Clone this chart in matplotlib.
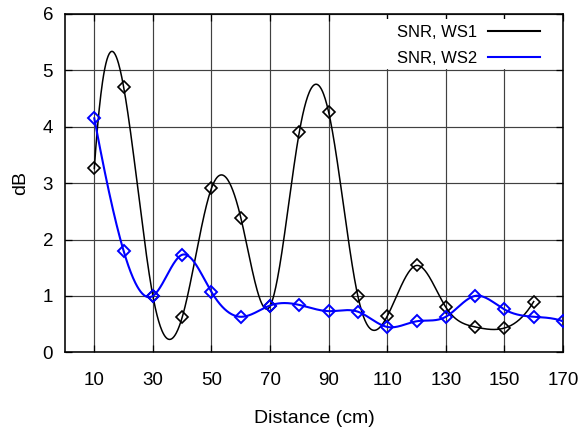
import numpy as np
import matplotlib
matplotlib.use("Agg")
import matplotlib.pyplot as plt
from matplotlib.lines import Line2D
from matplotlib.patches import Rectangle

plt.rcParams['font.family'] = ['Liberation Sans', 'DejaVu Sans']

# data
dist_ws1 = [10, 20, 30, 40, 50, 60, 70, 80, 90, 100, 110, 120, 130, 140, 150, 160]
snr_ws1 = [3.26, 4.71, 1.00, 0.62, 2.91, 2.39, 0.82, 3.91, 4.26, 0.99, 0.64, 1.54, 0.80, 0.45, 0.43, 0.90]
dist_ws2 = [10, 20, 30, 40, 50, 60, 70, 80, 90, 100, 110, 120, 130, 140, 150, 160, 170]
snr_ws2 = [4.15, 1.80, 1.00, 1.73, 1.07, 0.63, 0.83, 0.84, 0.73, 0.72, 0.45, 0.55, 0.63, 1.00, 0.76, 0.63, 0.55]
xticks = [10, 30, 50, 70, 90, 110, 130, 150, 170]
yticks = [0, 1, 2, 3, 4, 5, 6]
labels = ["SNR, WS1", "SNR, WS2"]


def spline_curve(x, y, n=800):
    """Cubic spline with not-a-knot end conditions."""
    x = np.asarray(x, float)
    y = np.asarray(y, float)
    N = len(x)
    h = np.diff(x)
    A = np.zeros((N, N))
    b = np.zeros(N)
    A[0, 0] = h[1]
    A[0, 1] = -(h[0] + h[1])
    A[0, 2] = h[0]
    A[-1, -3] = h[-1]
    A[-1, -2] = -(h[-2] + h[-1])
    A[-1, -1] = h[-2]
    for i in range(1, N - 1):
        A[i, i - 1] = h[i - 1]
        A[i, i] = 2 * (h[i - 1] + h[i])
        A[i, i + 1] = h[i]
        b[i] = 6 * ((y[i + 1] - y[i]) / h[i] - (y[i] - y[i - 1]) / h[i - 1])
    M = np.linalg.solve(A, b)
    xs = np.linspace(x[0], x[-1], n)
    idx = np.clip(np.searchsorted(x, xs) - 1, 0, N - 2)
    x0, x1 = x[idx], x[idx + 1]
    y0, y1 = y[idx], y[idx + 1]
    m0, m1 = M[idx], M[idx + 1]
    hh = x1 - x0
    t1 = x1 - xs
    t0 = xs - x0
    ys = (m0 * t1 ** 3 + m1 * t0 ** 3) / (6 * hh) \
        + (y0 / hh - m0 * hh / 6) * t1 + (y1 / hh - m1 * hh / 6) * t0
    return xs, ys


fig = plt.figure(figsize=(5.8, 4.28), dpi=100)
ax = fig.add_axes([65 / 580, (428 - 352.3) / 428, (563 - 65) / 580, (352.3 - 14) / 428])

xs1, ys1 = spline_curve(dist_ws1, snr_ws1)
xs2, ys2 = spline_curve(dist_ws2, snr_ws2)

ax.plot(xs1, ys1, color='black', lw=1.1, zorder=3)
ax.plot(dist_ws1, snr_ws1, linestyle='none', marker='D', ms=6, mfc='none',
        mec='black', mew=1.2, zorder=4)
ax.plot(xs2, ys2, color='#0000ff', lw=1.5, zorder=3)
ax.plot(dist_ws2, snr_ws2, linestyle='none', marker='D', ms=6, mfc='none',
        mec='#0000ff', mew=1.4, zorder=4)

ax.set_xlim(0, 170)
ax.set_ylim(0, 6)
ax.set_xticks(xticks)
ax.set_yticks(yticks)
ax.set_axisbelow(True)
ax.grid(True, color='#404040', lw=0.85)
ax.tick_params(axis='both', direction='in', length=5, width=0.9, top=True, right=True,
               labelsize=13.5, color='black')
ax.tick_params(axis='x', pad=14)
ax.tick_params(axis='y', pad=8.5)
for s in ax.spines.values():
    s.set_linewidth(1.15)

ax.set_xlabel("Distance (cm)", fontsize=14, labelpad=15)
ax.set_ylabel("dB", fontsize=14, labelpad=10)

# white legend background covering the grid
ax.add_patch(Rectangle((0.618, 0.837), 0.382, 0.147, transform=ax.transAxes,
                       facecolor='white', edgecolor='none', zorder=1))

handles = [Line2D([], [], color='black', lw=1.5),
           Line2D([], [], color='#0000ff', lw=1.5)]
ax.legend(handles, labels, loc='upper right', bbox_to_anchor=(0.954, 0.968),
          bbox_transform=ax.transAxes, frameon=False, markerfirst=False,
          fontsize=12, handlelength=3.1, handletextpad=0.68, labelspacing=0.65,
          borderpad=0, borderaxespad=0)

fig.savefig("out.png", dpi=100)
